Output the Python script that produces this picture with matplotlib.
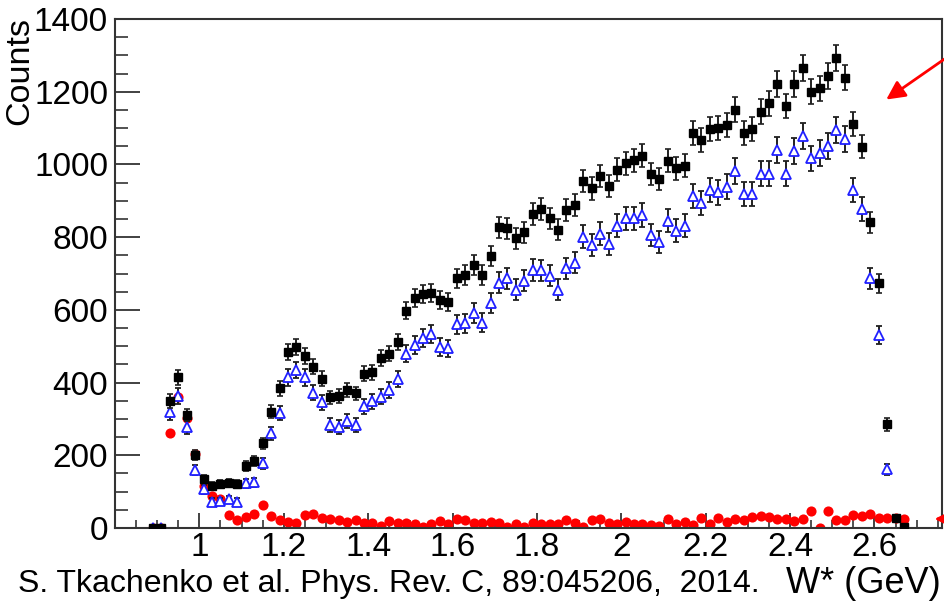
import numpy as np
import matplotlib
matplotlib.use("Agg")
import matplotlib.pyplot as plt
from matplotlib.ticker import MultipleLocator

plt.rcParams['font.family'] = ['Liberation Sans', 'DejaVu Sans']

# bin centres W* (GeV), 0.02 GeV bins
w = np.round(np.arange(0.89, 2.68, 0.02), 2)

# black squares
black = [0, 0, 350, 414, 311, 201, 135, 116, 120, 123,
         121, 171, 184, 233, 320, 384, 485, 497, 473, 444,
         411, 359, 362, 380, 370, 424, 429, 467, 480, 512,
         598, 632, 644, 647, 627, 621, 687, 696, 723, 696,
         748, 827, 824, 797, 813, 864, 877, 852, 820, 875,
         888, 955, 934, 968, 941, 985, 1003, 1012, 1024, 974,
         960, 1010, 989, 997, 1087, 1067, 1097, 1101, 1108, 1151,
         1086, 1097, 1145, 1168, 1221, 1161, 1221, 1266, 1200, 1209,
         1244, 1293, 1239, 1111, 1049, 841, 673, 285, 27, 2]

# blue open triangles
blue = [0, 0, 318, 363, 277, 160, 106, 72, 74, 79,
        72, 123, 126, 178, 260, 317, 414, 435, 414, 372,
        346, 284, 278, 295, 283, 335, 348, 361, 380, 409,
        480, 503, 522, 534, 497, 494, 561, 563, 592, 565,
        620, 675, 687, 656, 680, 710, 709, 694, 656, 714,
        730, 801, 778, 810, 781, 831, 852, 852, 861, 806,
        787, 845, 818, 831, 913, 895, 930, 923, 939, 982,
        919, 919, 974, 975, 1040, 974, 1038, 1079, 1017, 1032,
        1051, 1095, 1070, 930, 877, 687, 531, 161, np.nan, np.nan]

# red circles
red = [0, 0, 262, 361, 302, 204, 116, 89, 79, 36,
       22, 29, 38, 63, 33, 22, 17, 15, 36, 38,
       28, 24, 22, 17, 22, 13, 15, 6, 19, 14,
       14, 11, 3, 10, 19, 10, 25, 22, 15, 15,
       17, 14, 4, 10, 4, 14, 12, 10, 10, 22,
       14, 2, 22, 25, 15, 10, 17, 11, 11, 9,
       6, 24, 11, 17, 8, 27, 11, 27, 17, 24,
       22, 29, 33, 29, 24, 24, 20, 24, 47, 1,
       47, 22, 22, 36, 33, 38, 27, 27, 27, 24]

black = np.array(black, dtype=float)
blue = np.array(blue, dtype=float)
red = np.array(red, dtype=float)
err_black = np.sqrt(black)
err_blue = np.sqrt(np.nan_to_num(blue)) * 1.1

fig = plt.figure(figsize=(9.45, 6.02), dpi=100)
ax = fig.add_axes([0.1217, 0.1229, 0.8751, 0.8455])

ax.plot(w, red, 'o', color='#ff0000', ms=7.3, mec='none', zorder=2)
ax.errorbar(w, blue, yerr=err_blue, fmt='^', color='#2020ff', mfc='white',
            mec='#2020ff', mew=1.3, ms=6.8, ecolor='#202020', elinewidth=1.4,
            capsize=2, capthick=1.2, zorder=3)
ax.errorbar(w, black, yerr=err_black, fmt='s', color='black', ms=5.8,
            ecolor='#202020', elinewidth=1.4, capsize=2, capthick=1.2, zorder=4)

ax.set_xlim(0.8, 2.76)
ax.set_ylim(0, 1400)
ax.xaxis.set_major_locator(MultipleLocator(0.2))
ax.xaxis.set_minor_locator(MultipleLocator(0.05))
ax.yaxis.set_major_locator(MultipleLocator(200))
ax.yaxis.set_minor_locator(MultipleLocator(50))
ax.set_xticks([1, 1.2, 1.4, 1.6, 1.8, 2, 2.2, 2.4, 2.6])
ax.set_xticklabels(['1', '1.2', '1.4', '1.6', '1.8', '2', '2.2', '2.4', '2.6'])

ax.tick_params(axis='both', which='both', direction='in', top=False, right=False,
               color='#333333', labelsize=24)
ax.tick_params(axis='y', which='major', length=18, width=1.3, pad=5)
ax.tick_params(axis='y', which='minor', length=9, width=1.2)
ax.tick_params(axis='x', which='major', length=11, width=1.3, pad=3)
ax.tick_params(axis='x', which='minor', length=6, width=1.2)
for s in ax.spines.values():
    s.set_linewidth(1.5)
    s.set_color('#333333')

fig.text(0.021, 0.972, 'Counts', rotation=90, ha='center', va='top', fontsize=24.5)
fig.text(0.996, 0.031, 'W* (GeV)', ha='right', va='center', fontsize=26)
fig.text(0.019, 0.030, 'S. Tkachenko et al. Phys. Rev. C, 89:045206,  2014.',
         ha='left', va='center', fontsize=23)

# red arrows at the right
ax.annotate('', xy=(0.9354, 0.832), xytext=(1.005, 0.908), xycoords='figure fraction',
            textcoords='figure fraction', annotation_clip=False,
            arrowprops=dict(arrowstyle='-|>', color='red', lw=2, mutation_scale=28))
ax.annotate('', xy=(0.986, 0.138), xytext=(1.03, 0.138), xycoords='figure fraction',
            textcoords='figure fraction', annotation_clip=False,
            arrowprops=dict(arrowstyle='-|>', color='red', lw=2, mutation_scale=28))

fig.savefig('out.png', dpi=100)
